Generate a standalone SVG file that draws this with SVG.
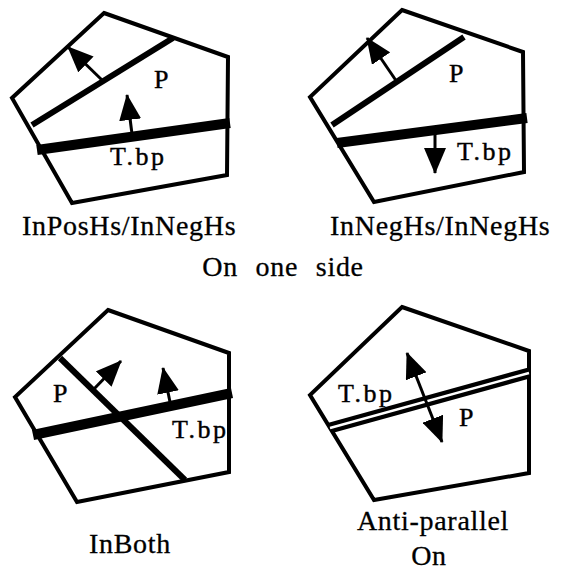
<svg xmlns="http://www.w3.org/2000/svg" width="564" height="570" viewBox="0 0 564 570">
<style>
.poly{fill:none;stroke:#000;stroke-width:4;stroke-linejoin:miter}
.pl{stroke:#000;stroke-width:6;stroke-linecap:butt}
.tl{stroke:#000;stroke-width:10;stroke-linecap:butt}
.ar{stroke:#000;stroke-width:3;fill:none;marker-end:url(#ah)}
.t{font-family:"Liberation Serif","Times New Roman",serif;font-size:26px;fill:#000;stroke:#000;stroke-width:0.4;letter-spacing:2.5px}
.lab{font-family:"Liberation Serif","Times New Roman",serif;font-size:28px;fill:#000;stroke:#000;stroke-width:0.3;letter-spacing:0.7px}
</style>
<defs>
<marker id="ah" markerUnits="userSpaceOnUse" viewBox="0 0 26 22" markerWidth="26" markerHeight="22" refX="25" refY="11" orient="auto">
<path d="M0,0 L26,11 L0,22 z" fill="#000"/>
</marker>
<marker id="ahs" markerUnits="userSpaceOnUse" viewBox="0 0 26 22" markerWidth="26" markerHeight="22" refX="1" refY="11" orient="auto">
<path d="M26,0 L0,11 L26,22 z" fill="#000"/>
</marker>
</defs>
<rect width="564" height="570" fill="#fff"/>

<g id="panel1">
<polygon class="poly" points="104,13 228,57 227,175 72,203 12,98"/>
<line class="pl" x1="32" y1="125" x2="173" y2="38"/>
<line class="tl" x1="37" y1="150" x2="230" y2="123"/>
<line class="ar" x1="103" y1="81" x2="68" y2="47"/>
<line class="ar" x1="132" y1="134" x2="127" y2="95"/>
<text class="t" x="154" y="88">P</text>
<text class="t" x="110" y="165">T.bp</text>
</g>

<g id="panel2">
<polygon class="poly" points="402,10 523,52 524,172 374,202 310,97"/>
<line class="pl" x1="332" y1="125" x2="464" y2="37"/>
<line class="tl" x1="337" y1="143" x2="527" y2="118"/>
<line class="ar" x1="397" y1="82" x2="367" y2="38"/>
<line class="ar" x1="435" y1="130" x2="435" y2="173"/>
<text class="t" x="449" y="82">P</text>
<text class="t" x="457" y="160">T.bp</text>
</g>

<g id="caption1">
<text class="lab" x="22" y="235">InPosHs/InNegHs</text>
<text class="lab" x="330" y="235">InNegHs/InNegHs</text>
<text class="lab" x="283" y="276" text-anchor="middle" letter-spacing="1.2" word-spacing="10">On one side</text>
</g>

<g id="panel3">
<polygon class="poly" points="108,310 229,353 229,472 77,502 15,397"/>
<line class="pl" x1="60" y1="358" x2="185" y2="480"/>
<line class="tl" x1="33" y1="435" x2="232" y2="393"/>
<line class="ar" x1="93" y1="390" x2="121" y2="361"/>
<line class="ar" x1="170" y1="402" x2="163" y2="368"/>
<text class="t" x="53" y="402">P</text>
<text class="t" x="172" y="438">T.bp</text>
<text class="lab" x="130" y="553" text-anchor="middle" letter-spacing="2.5">InBoth</text>
</g>

<g id="panel4">
<polygon class="poly" points="402,307 529,351 529,473 374,500 310,395"/>
<line x1="330" y1="428" x2="529" y2="373" stroke="#000" stroke-width="11"/>
<line x1="330" y1="428" x2="529" y2="373" stroke="#fff" stroke-width="2.5"/>
<line x1="407" y1="353" x2="442" y2="442" stroke="#000" stroke-width="3" marker-start="url(#ahs)" marker-end="url(#ah)"/>
<text class="t" x="338" y="402">T.bp</text>
<text class="t" x="459" y="426">P</text>
<text class="lab" x="433" y="530" text-anchor="middle" letter-spacing="4.5">Anti-parallel</text>
<text class="lab" x="429" y="565" text-anchor="middle" letter-spacing="2">On</text>
</g>
</svg>
